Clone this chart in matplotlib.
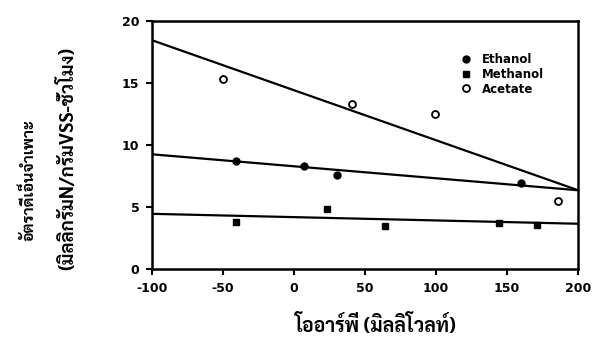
import matplotlib
matplotlib.use('Agg')
import matplotlib.pyplot as plt

thai = ['Sarabun', 'Noto Sans Thai', 'DejaVu Sans']

# data
ethanol_x = [-41, 7, 30, 160]
ethanol_y = [8.7, 8.3, 7.6, 6.9]
methanol_x = [-41, 23, 64, 144, 171]
methanol_y = [3.8, 4.85, 3.5, 3.7, 3.55]
acetate_x = [-50, 41, 99, 186]
acetate_y = [15.3, 13.3, 12.5, 5.45]

# fitted lines (end points)
fit_x = [-100, 200]
ethanol_fit = [9.25, 6.35]
methanol_fit = [4.45, 3.65]
acetate_fit = [18.45, 6.35]

xticks = [-100, -50, 0, 50, 100, 150, 200]
yticks = [0, 5, 10, 15, 20]

fig = plt.figure(figsize=(5.96, 3.44), dpi=100)
ax = fig.add_axes([0.255, 0.218, 0.715, 0.721])

for fy in (acetate_fit, ethanol_fit, methanol_fit):
    ax.plot(fit_x, fy, color='black', lw=1.6)

ax.plot(ethanol_x, ethanol_y, 'o', color='black', ms=5, label='Ethanol')
ax.plot(methanol_x, methanol_y, 's', color='black', ms=5, label='Methanol')
ax.plot(acetate_x, acetate_y, 'o', mfc='white', mec='black', mew=1.3, ms=5,
        label='Acetate')

ax.set_xlim(-100, 200)
ax.set_ylim(0, 20)
ax.set_xticks(xticks)
ax.set_yticks(yticks)
ax.set_xticklabels(['-100', '-50', '0', '50', '100', '150', '200'],
                   fontsize=9, fontweight='bold')
ax.set_yticklabels([str(v) for v in yticks], fontsize=9, fontweight='bold')
ax.tick_params(direction='out', length=4, width=1.5, pad=5)
for s in ax.spines.values():
    s.set_linewidth(1.8)

leg = ax.legend(loc='upper right', bbox_to_anchor=(0.93, 0.89), frameon=False,
                fontsize=8.5, handlelength=0.8, handletextpad=0.9,
                labelspacing=0.15, borderaxespad=0)
for t in leg.get_texts():
    t.set_fontweight('bold')

fig.text(0.047, 0.475, 'อัตราดีเอ็นจำเพาะ', rotation=90, ha='center',
         va='center', fontsize=11.5, fontweight='bold', family=thai)
fig.text(0.112, 0.54, '(มิลลิกรัมN/กรัมVSS-ชั่วโมง)', rotation=90,
         ha='center', va='center', fontsize=13.5, fontweight='bold', family=thai)
fig.text(0.63, 0.055, 'โออาร์พี (มิลลิโวลท์)', ha='center', va='center',
         fontsize=14, fontweight='bold', family=thai)

fig.savefig('out.png', dpi=100)
